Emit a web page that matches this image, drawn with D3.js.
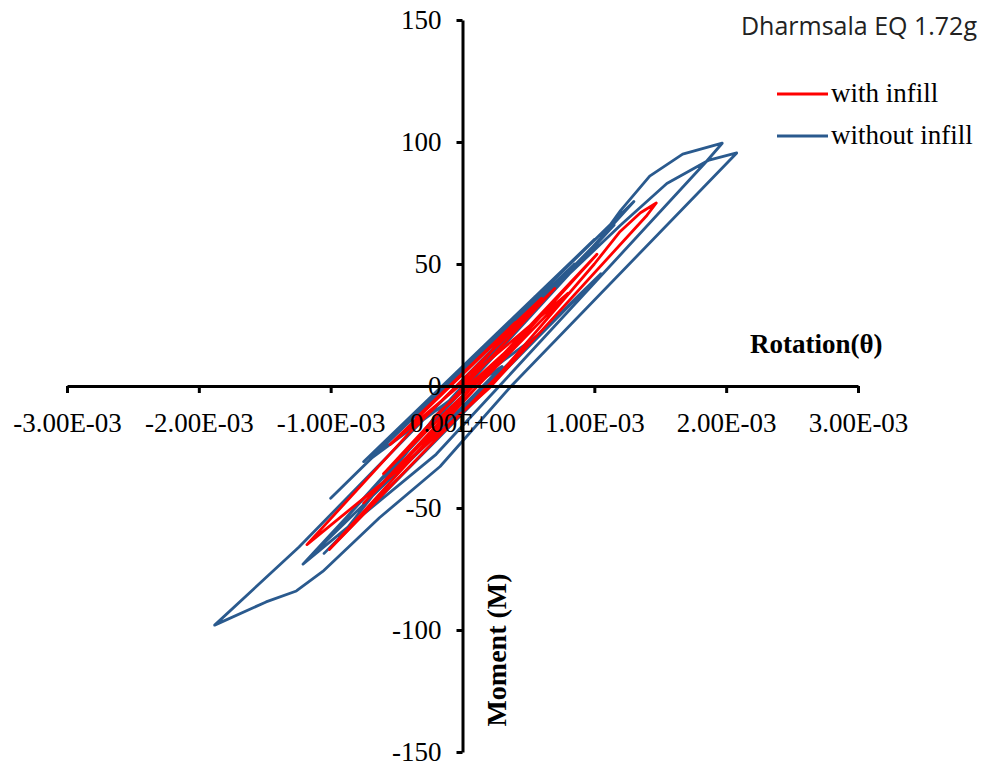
<!DOCTYPE html>
<html>
<head>
<meta charset="utf-8">
<script src="https://cdn.jsdelivr.net/npm/d3@7/dist/d3.min.js"></script>
<style>
    body { margin: 0; background: #fff; }
    svg { display: block; }
    .serif { font-family: "Times New Roman", "Liberation Serif", serif; }
</style>
</head>
<body>
<svg id="chart" width="984" height="764"></svg>
<script>
// 坐标轴刻度
const xTicks = [-0.003, -0.002, -0.001, 0, 0.001, 0.002, 0.003];
const xTickLabels = ["-3.00E-03", "-2.00E-03", "-1.00E-03", "0.00E+00", "1.00E-03", "2.00E-03", "3.00E-03"];
const yTicks = [-150, -100, -50, 0, 50, 100, 150];

// 图例 / 系列名
const seriesNames = ["with infill", "without infill"];
const seriesColors = ["#ff0000", "#2a5a8e"];

// 转角 θ, 弯矩 M —— 有填充墙
const withInfill = [
    [0, 0],
    [0.00040, 26],
    [-0.00035, -13],
    [0.00060, 36],
    [-0.00055, -24],
    [0.00080, 38],
    [-0.00075, -48],
    [0.00102, 54],
    [-0.00101, -67],
    [0.00030, 6],
    [0.00100, 50],
    [0.00119, 63],
    [0.00135, 71],
    [0.00147, 75],
    [0.00140, 70],
    [0.00020, -1],
    [-0.00050, -35],
    [-0.00118, -65],
    [-0.00040, -19],
    [0.00070, 40],
    [-0.00060, -36],
    [0.00045, 20],
    [-0.00020, -12],
    [0.00010, 3]
];

// 转角 θ, 弯矩 M —— 无填充墙
const withoutInfill = [
    [0, 0],
    [0.00055, 36.6],
    [-0.00050, -18],
    [0.00080, 49.6],
    [-0.00075, -31],
    [0.00100, 60],
    [-0.00100, -46],
    [0.00130, 75.6],
    [-0.00110, -67],
    [0.00105, 46],
    [-0.00105, -68.6],
    [0.00090, 38],
    [-0.00095, -63.4],
    [-0.00020, -12],
    [0.00050, 30],
    [0.00100, 57],
    [0.00120, 72],
    [0.00142, 86],
    [0.00167, 95],
    [0.00197, 99.5],
    [0.00185, 92],
    [0.00028, 0],
    [-0.00020, -28],
    [-0.00121, -73],
    [-0.00030, -20],
    [0.00050, 30],
    [0.00120, 66],
    [0.00155, 83],
    [0.00187, 92.6],
    [0.00208, 95.5],
    [0.00037, 0],
    [-0.00017, -33],
    [-0.00063, -54],
    [-0.00106, -76],
    [-0.00126, -84],
    [-0.00149, -88.5],
    [-0.00188, -98],
    [-0.00124, -66],
    [-0.00030, -14],
    [0.00115, 66],
    [-0.00095, -58],
    [0.00085, 50],
    [-0.00070, -30],
    [0.00060, 22],
    [-0.00050, -36],
    [0.00030, 8],
    [-0.00010, -6]
];

const svg = d3.select("#chart");

// 比例尺
const x = d3.scaleLinear().domain([-0.003, 0.003]).range([67, 858]);
const y = d3.scaleLinear().domain([-150, 150]).range([752, 20]);

// 曲线
const line = d3.line().x(d => x(d[0])).y(d => y(d[1]));

const plot = svg.append("g").attr("class", "plot");
[withoutInfill, withInfill].forEach((data, i) => {
    plot.append("path")
        .datum(data)
        .attr("fill", "none")
        .attr("stroke", i === 0 ? seriesColors[1] : seriesColors[0])
        .attr("stroke-width", 2.8)
        .attr("stroke-linejoin", "round")
        .attr("stroke-linecap", "round")
        .attr("d", line);
});

// x 轴
const xAxis = svg.append("g")
    .attr("class", "serif")
    .attr("transform", `translate(0,${y(0)})`)
    .call(d3.axisBottom(x)
        .tickValues(xTicks)
        .tickFormat((d, i) => xTickLabels[i])
        .tickSize(7)
        .tickSizeOuter(0));

// y 轴
const yAxis = svg.append("g")
    .attr("class", "serif")
    .attr("transform", `translate(${x(0)},0)`)
    .call(d3.axisLeft(y)
        .tickValues(yTicks)
        .tickFormat(d => String(d))
        .tickSize(6)
        .tickSizeOuter(0));

[xAxis, yAxis].forEach(ax => {
    ax.select(".domain").attr("stroke", "#000").attr("stroke-width", 3);
    ax.selectAll(".tick line").attr("stroke", "#000").attr("stroke-width", 3);
    ax.selectAll("text")
        .attr("fill", "#000")
        .style("font-family", '"Times New Roman", "Liberation Serif", serif')
        .style("font-size", "27px");
});
xAxis.selectAll("text").attr("y", 46).attr("dy", 0);
yAxis.selectAll("text").attr("x", -21);

// 轴标题
svg.append("text")
    .attr("class", "serif")
    .attr("x", 750).attr("y", 353)
    .style("font-size", "27px").style("font-weight", "bold")
    .text("Rotation(θ)");

svg.append("text")
    .attr("class", "serif")
    .attr("transform", "translate(506,650) rotate(-90)")
    .attr("text-anchor", "middle")
    .style("font-size", "28px").style("font-weight", "bold")
    .text("Moment (M)");

// 标题
svg.append("text")
    .attr("x", 977).attr("y", 35)
    .attr("text-anchor", "end")
    .attr("fill", "#222")
    .style("font-family", '"Open Sans", "Noto Sans", sans-serif')
    .style("font-size", "25px")
    .text("Dharmsala EQ 1.72g");

// 图例
const legend = svg.append("g").attr("class", "serif");
seriesNames.forEach((name, i) => {
    const ly = 94 + i * 42;
    legend.append("line")
        .attr("x1", 777).attr("x2", 828)
        .attr("y1", ly).attr("y2", ly)
        .attr("stroke", seriesColors[i])
        .attr("stroke-width", 3);
    legend.append("text")
        .attr("x", 831).attr("y", ly + 8)
        .style("font-size", "27px")
        .text(name);
});
</script>
</body>
</html>
